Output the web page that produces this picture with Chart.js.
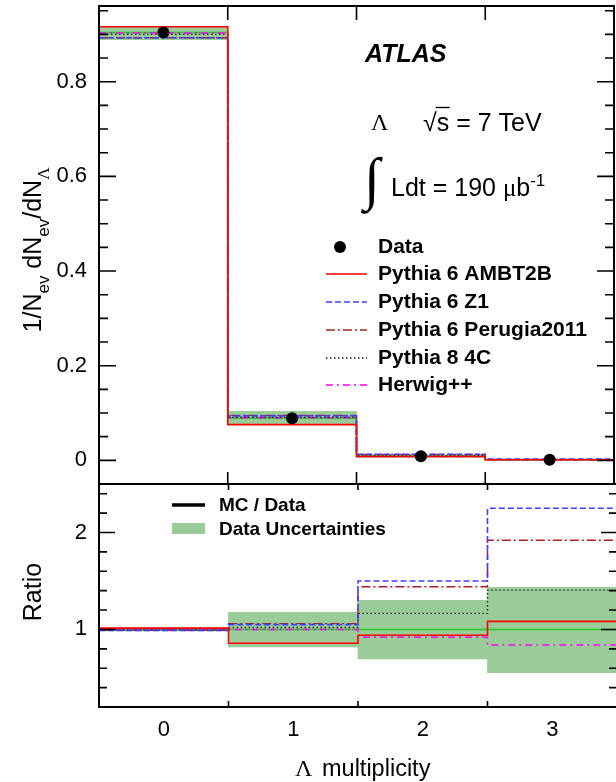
<!DOCTYPE html>
<html>
<head>
<meta charset="utf-8">
<script src="https://cdn.jsdelivr.net/npm/chart.js@4.4.1/dist/chart.umd.min.js"></script>
<style>
html,body{margin:0;padding:0;background:#fff;overflow:hidden;}
#wrap{position:relative;width:616px;height:782px;overflow:hidden;background:#fff;}
#top{position:absolute;left:0;top:0;}
#bot{position:absolute;left:0;top:480px;}
</style>
</head>
<body>
<div id="wrap">
<canvas id="top" width="620" height="490" style="width:620px;height:490px"></canvas>
<canvas id="bot" width="620" height="302" style="width:620px;height:302px"></canvas>
</div>
<script>
// ---------- data ----------
const categories = [0, 1, 2, 3];
const topTickLabels = [0, 0.2, 0.4, 0.6, 0.8];
const ratioTickLabels = [1, 2];

const dataVals      = [0.904, 0.089, 0.0085, 0.0011];
const dataBandLow   = [0.889, 0.077, 0.0060, 0.0006];
const dataBandHigh  = [0.917, 0.1037, 0.0110, 0.0016];
const ambt2b        = [0.916, 0.0755, 0.0081, 0.0012];
const z1            = [0.893, 0.094, 0.0128, 0.0025];
const perugia2011   = [0.893, 0.095, 0.0122, 0.0021];
const pythia8_4c    = [0.900, 0.091, 0.0099, 0.0016];
const herwigpp      = [0.903, 0.090, 0.0079, 0.0009];

const ratioData     = [1, 1, 1, 1];
const ratioBandLow  = [0.985, 0.82, 0.695, 0.554];
const ratioBandHigh = [1.015, 1.176, 1.30, 1.434];
const ratioAmbt2b   = [1.013, 0.857, 0.94, 1.083];
const ratioZ1       = [0.99, 1.05, 1.50, 2.25];
const ratioPerugia  = [0.99, 1.06, 1.44, 1.92];
const ratio4c       = [0.995, 1.02, 1.166, 1.405];
const ratioHerwig   = [0.998, 1.0, 0.92, 0.84];

const legendLabels = ['Data', 'Pythia 6 AMBT2B', 'Pythia 6 Z1', 'Pythia 6 Perugia2011', 'Pythia 8 4C', 'Herwig++'];

// ---------- styles ----------
const FONT = '"Liberation Sans", Arial, Helvetica, sans-serif';
const SERIF = '"Liberation Serif", "Times New Roman", serif';
const BAND = '#99cc99';
const DATALINE = '#22cc22';
const styles = {
  ambt2b:  {color: '#ff0000', dash: [],            width: 1.6},
  z1:      {color: '#3f3fff', dash: [6, 3],        width: 1.6},
  perugia: {color: '#a52222', dash: [9, 3, 2, 3],  width: 1.4},
  c4:      {color: '#222222', dash: [1.5, 2.5],    width: 1.4},
  herwig:  {color: '#ff00ff', dash: [7, 4, 2, 4],  width: 1.4}
};

// ---------- helpers ----------
const edges = categories.map(c => c - 0.5).concat([categories[categories.length - 1] + 0.5]);
function stepPts(vals) { return edges.map((x, i) => ({x: x, y: vals[Math.min(i, vals.length - 1)]})); }
function centerPts(vals) { return categories.map((c, i) => ({x: c, y: vals[i]})); }
function bandPts(lo, hi) { return categories.map((c, i) => ({x: c, y: [lo[i], hi[i]]})); }
function stepLine(vals, st, order) {
  return {type: 'line', data: stepPts(vals), borderColor: st.color, borderWidth: st.width,
          borderDash: st.dash, stepped: true, pointRadius: 0, fill: false, order: order, tension: 0};
}
function bandSet(lo, hi) {
  return {type: 'bar', data: bandPts(lo, hi), backgroundColor: BAND, borderWidth: 0,
          barPercentage: 1, categoryPercentage: 1, grouped: false, order: 20};
}

function drawTicksFrame(chart, opt) {
  const ctx = chart.ctx, a = chart.chartArea, x = chart.scales.x, y = chart.scales.y;
  ctx.save();
  ctx.strokeStyle = '#000';
  ctx.lineWidth = 1.6;
  ctx.beginPath();
  const n0 = Math.ceil(y.min / opt.minorStep - 1e-6), n1 = Math.floor(y.max / opt.minorStep + 1e-6);
  for (let k = n0; k <= n1; k++) {
    const v = k * opt.minorStep;
    const isMajor = opt.major.some(m => Math.abs(m - v) < 1e-6);
    const len = isMajor ? opt.majorLen : opt.minorLen;
    const py = y.getPixelForValue(v);
    ctx.moveTo(a.left, py); ctx.lineTo(a.left + len, py);
    ctx.moveTo(a.right, py); ctx.lineTo(a.right - len, py);
  }
  edges.slice(1, -1).forEach(e => {
    const px = x.getPixelForValue(e);
    ctx.moveTo(px, a.bottom); ctx.lineTo(px, a.bottom - opt.xBottomLen);
    ctx.moveTo(px, a.top); ctx.lineTo(px, a.top + opt.xTopLen);
  });
  ctx.stroke();
  ctx.lineWidth = 2;
  ctx.strokeRect(a.left, a.top, a.right - a.left, a.bottom - a.top);
  ctx.restore();
}

// rich text: parts [{t, sub, sup, serif}]
function richMeasure(ctx, parts, size) {
  let w = 0;
  parts.forEach(p => {
    const s = (p.sub || p.sup) ? size * 0.68 : size;
    ctx.font = (p.bold ? 'bold ' : '') + s + 'px ' + (p.serif ? SERIF : FONT);
    w += ctx.measureText(p.t).width;
  });
  return w;
}
function richDraw(ctx, parts, x, y, size) {
  let cx = x;
  parts.forEach(p => {
    const s = (p.sub || p.sup) ? size * 0.68 : size;
    ctx.font = (p.bold ? 'bold ' : '') + s + 'px ' + (p.serif ? SERIF : FONT);
    const dy = p.sub ? size * 0.3 : (p.sup ? -size * 0.42 : 0);
    ctx.fillText(p.t, cx, y + dy);
    cx += ctx.measureText(p.t).width + (p.gap || 0);
  });
  return cx;
}
function richRotated(ctx, parts, cx, cy, size) {
  ctx.save();
  ctx.translate(cx, cy);
  ctx.rotate(-Math.PI / 2);
  ctx.textBaseline = 'alphabetic';
  ctx.textAlign = 'left';
  const w = richMeasure(ctx, parts, size);
  richDraw(ctx, parts, -w / 2, size * 0.36, size);
  ctx.restore();
}

function legendLine(ctx, st, x0, x1, y) {
  ctx.save();
  ctx.strokeStyle = st.color; ctx.lineWidth = st.width; ctx.setLineDash(st.dash);
  ctx.beginPath(); ctx.moveTo(x0, y); ctx.lineTo(x1, y); ctx.stroke();
  ctx.restore();
}

// ---------- top panel ----------
const topPlugin = {
  id: 'topDecor',
  afterDraw(chart) {
    const ctx = chart.ctx;
    drawTicksFrame(chart, {minorStep: 0.05, major: topTickLabels, majorLen: 17, minorLen: 9, xBottomLen: 12, xTopLen: 14});
    ctx.save();
    ctx.fillStyle = '#000';
    ctx.strokeStyle = '#000';
    ctx.textBaseline = 'middle';
    ctx.textAlign = 'left';
    // ATLAS
    ctx.font = 'italic bold 25px ' + FONT;
    ctx.fillText('ATLAS', 365, 55);
    // Lambda sqrt(s)
    ctx.font = '24px ' + SERIF;
    ctx.fillText('Λ', 371, 124);
    ctx.font = '25px ' + FONT;
    ctx.fillText('√', 423, 124);
    const wr = ctx.measureText('√').width;
    const ws = ctx.measureText('s').width;
    ctx.fillText('s = 7 TeV', 423 + wr, 124);
    ctx.lineWidth = 1.4;
    ctx.beginPath(); ctx.moveTo(423 + wr - 1, 107.5); ctx.lineTo(423 + wr + ws + 0.5, 107.5); ctx.stroke();
    // integral
    ctx.font = '58px ' + SERIF;
    ctx.fillText('∫', 364, 183);
    ctx.textBaseline = 'alphabetic';
    richDraw(ctx, [{t: 'Ldt = 190 ', gap: 0}, {t: 'μ', serif: true}, {t: 'b'}, {t: '-1', sup: true}], 391, 196, 25);
    // legend
    const rows = [247, 274, 302, 330, 358, 385];
    ctx.textBaseline = 'middle';
    ctx.font = 'bold 21px ' + FONT;
    legendLabels.forEach((lab, i) => ctx.fillText(lab, 378, rows[i]));
    ctx.beginPath(); ctx.arc(340, rows[0], 6, 0, Math.PI * 2); ctx.fill();
    legendLine(ctx, styles.ambt2b, 326, 367, rows[1]);
    legendLine(ctx, styles.z1, 326, 367, rows[2]);
    legendLine(ctx, styles.perugia, 326, 367, rows[3]);
    legendLine(ctx, styles.c4, 326, 367, rows[4]);
    legendLine(ctx, styles.herwig, 326, 367, rows[5]);
    // y title
    richRotated(ctx, [{t: '1/N'}, {t: 'ev', sub: true}, {t: ' dN'}, {t: 'ev', sub: true}, {t: '/dN'}, {t: 'Λ', sub: true, serif: true}], 32, 250, 25);
    ctx.restore();
  }
};

new Chart(document.getElementById('top'), {
  type: 'line',
  data: {
    datasets: [
      bandSet(dataBandLow, dataBandHigh),
      stepLine(dataVals, {color: DATALINE, dash: [], width: 1.6}, 10),
      stepLine(herwigpp, styles.herwig, 5),
      stepLine(pythia8_4c, styles.c4, 4),
      stepLine(perugia2011, styles.perugia, 3),
      stepLine(z1, styles.z1, 2),
      stepLine(ambt2b, styles.ambt2b, 1),
      {type: 'line', data: centerPts(dataVals), showLine: false, pointRadius: 6, pointBackgroundColor: '#000',
       pointBorderColor: '#000', pointBorderWidth: 0, order: 0}
    ]
  },
  options: {
    responsive: false, animation: false, events: [],
    layout: {padding: {left: 0, right: 3, top: 6, bottom: 6}},
    plugins: {legend: {display: false}, tooltip: {enabled: false}},
    scales: {
      x: {type: 'linear', min: -0.5, max: 3.5, display: false, offset: false,
          afterBuildTicks: s => { s.ticks = categories.map(v => ({value: v})); }},
      y: {type: 'linear', min: -0.05, max: 0.96,
          grid: {display: false, drawTicks: false}, border: {display: false},
          ticks: {font: {family: FONT, size: 22}, color: '#000', padding: 12, callback: v => String(v)},
          afterBuildTicks: s => { s.ticks = topTickLabels.map(v => ({value: v})); },
          afterFit: s => { s.width = 99; s.paddingTop = 0; s.paddingBottom = 0; }}
    }
  },
  plugins: [topPlugin]
});

// ---------- ratio panel ----------
const OFF = 480;
const botPlugin = {
  id: 'botDecor',
  afterDraw(chart) {
    const ctx = chart.ctx;
    drawTicksFrame(chart, {minorStep: 0.2, major: ratioTickLabels, majorLen: 16, minorLen: 8, xBottomLen: 6, xTopLen: 6});
    ctx.save();
    ctx.translate(0, -OFF);
    ctx.fillStyle = '#000';
    ctx.textBaseline = 'middle';
    ctx.textAlign = 'left';
    // legend
    ctx.strokeStyle = '#000'; ctx.lineWidth = 3.5;
    ctx.beginPath(); ctx.moveTo(172, 505); ctx.lineTo(205, 505); ctx.stroke();
    ctx.fillStyle = BAND; ctx.fillRect(172, 523, 33, 11);
    ctx.fillStyle = '#000';
    ctx.font = 'bold 19px ' + FONT;
    ctx.fillText('MC / Data', 219, 506);
    ctx.fillText('Data Uncertainties', 219, 530);
    // y title
    richRotated(ctx, [{t: 'Ratio'}], 32, 592, 25);
    // x title
    ctx.font = '24px ' + SERIF;
    ctx.fillText('Λ', 295, 770);
    ctx.font = '23.5px ' + FONT;
    ctx.fillText('multiplicity', 322, 770);
    ctx.restore();
  }
};

new Chart(document.getElementById('bot'), {
  type: 'line',
  data: {
    datasets: [
      bandSet(ratioBandLow, ratioBandHigh),
      stepLine(ratioData, {color: DATALINE, dash: [], width: 1.6}, 10),
      stepLine(ratioHerwig, styles.herwig, 5),
      stepLine(ratio4c, styles.c4, 4),
      stepLine(ratioPerugia, styles.perugia, 3),
      stepLine(ratioZ1, styles.z1, 2),
      stepLine(ratioAmbt2b, styles.ambt2b, 1)
    ]
  },
  options: {
    responsive: false, animation: false, events: [],
    layout: {padding: {left: 0, right: 3, top: 4, bottom: 0}},
    plugins: {legend: {display: false}, tooltip: {enabled: false}},
    scales: {
      x: {type: 'linear', min: -0.5, max: 3.5, offset: false,
          grid: {display: false, drawTicks: false}, border: {display: false},
          ticks: {font: {family: FONT, size: 22}, color: '#000', padding: 10, autoSkip: false, maxRotation: 0, callback: v => String(v)},
          afterBuildTicks: s => { s.ticks = categories.map(v => ({value: v})); },
          afterFit: s => { s.height = 75; s.paddingLeft = 0; s.paddingRight = 0; }},
      y: {type: 'linear', min: 0.2, max: 2.5,
          grid: {display: false, drawTicks: false}, border: {display: false},
          ticks: {font: {family: FONT, size: 22}, color: '#000', padding: 12, callback: v => String(v)},
          afterBuildTicks: s => { s.ticks = ratioTickLabels.map(v => ({value: v})); },
          afterFit: s => { s.width = 99; s.paddingTop = 0; s.paddingBottom = 0; }}
    }
  },
  plugins: [botPlugin]
});
</script>
</body>
</html>
